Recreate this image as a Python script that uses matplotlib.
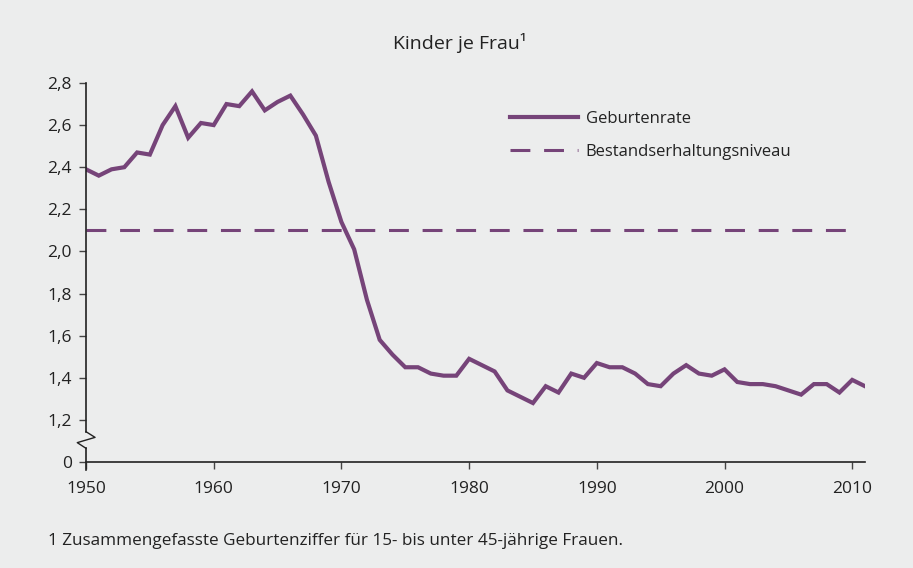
import matplotlib.pyplot as plt
from matplotlib.transforms import blended_transform_factory

# Geburtenrate 1950-2011 (Kinder je Frau)
jahre = list(range(1950, 2012))
rate = [2.39, 2.36, 2.39, 2.40, 2.47, 2.46, 2.60, 2.69, 2.54, 2.61,
        2.60, 2.70, 2.69, 2.76, 2.67, 2.71, 2.74, 2.65, 2.55, 2.33,
        2.14, 2.01, 1.77, 1.58, 1.51, 1.45, 1.45, 1.42, 1.41, 1.41,
        1.49, 1.46, 1.43, 1.34, 1.31, 1.28, 1.36, 1.33, 1.42, 1.40,
        1.47, 1.45, 1.45, 1.42, 1.37, 1.36, 1.42, 1.46, 1.42, 1.41,
        1.44, 1.38, 1.37, 1.37, 1.36, 1.34, 1.32, 1.37, 1.37, 1.33,
        1.39, 1.36]
niveau_jahre = [1950, 2010]
niveau = [2.1, 2.1]

yticks = [1.0, 1.2, 1.4, 1.6, 1.8, 2.0, 2.2, 2.4, 2.6, 2.8]
ytick_labels = ['0', '1,2', '1,4', '1,6', '1,8', '2,0', '2,2', '2,4', '2,6', '2,8']
xticks = [1950, 1960, 1970, 1980, 1990, 2000, 2010]

lila = '#764479'
bg = '#ECEDED'
dunkel = '#222222'

plt.rcParams['font.family'] = ['Open Sans', 'DejaVu Sans']

fig = plt.figure(figsize=(9.13, 5.68), dpi=100, facecolor=bg)
ax = fig.add_axes([0.0942, 0.1866, 0.8532, 0.6673], facecolor=bg)

ax.plot(jahre, rate, color=lila, lw=3.0, solid_joinstyle='miter', label='Geburtenrate')
ax.plot(niveau_jahre, niveau, color=lila, lw=2.2, dashes=(6.5, 4.5), label='Bestandserhaltungsniveau')

ax.set_xlim(1950, 2011)
ax.set_ylim(1.0, 2.8)
ax.set_xticks(xticks)
ax.set_xticklabels([str(j) for j in xticks])
ax.set_yticks(yticks)
ax.set_yticklabels(ytick_labels)
ax.tick_params(axis='both', direction='out', length=5, width=1, color='#444444',
               labelsize=12.5, labelcolor=dunkel, pad=5)
ax.tick_params(axis='x', pad=9)

for s in ['top', 'right', 'left']:
    ax.spines[s].set_visible(False)
ax.spines['bottom'].set_color(dunkel)
ax.spines['bottom'].set_linewidth(1.2)

# y-Achse mit Achsenbruch
tr = blended_transform_factory(ax.transAxes, ax.transData)
ax.plot([0, 0], [1.144, 2.8], color=dunkel, lw=1.2, transform=tr, clip_on=False)
ax.plot([0, 0], [0.96, 1.065], color=dunkel, lw=1.2, transform=tr, clip_on=False)
ax.plot([0, 0.0116, -0.0112, 0], [1.144, 1.117, 1.092, 1.065],
        color=dunkel, lw=1.0, transform=tr, clip_on=False)

leg = ax.legend(loc='upper left', bbox_to_anchor=(0.525, 0.965), frameon=False,
                fontsize=12, handlelength=4.1, handletextpad=0.45, labelspacing=1.0)
for t in leg.get_texts():
    t.set_color(dunkel)

fig.text(0.504, 0.924, 'Kinder je Frau¹', ha='center', va='center', fontsize=14, color=dunkel)
fig.text(0.0526, 0.047, '1 Zusammengefasste Geburtenziffer für 15- bis unter 45-jährige Frauen.',
         ha='left', va='center', fontsize=12.3, color=dunkel)

fig.savefig('out.png', dpi=100, facecolor=bg)
